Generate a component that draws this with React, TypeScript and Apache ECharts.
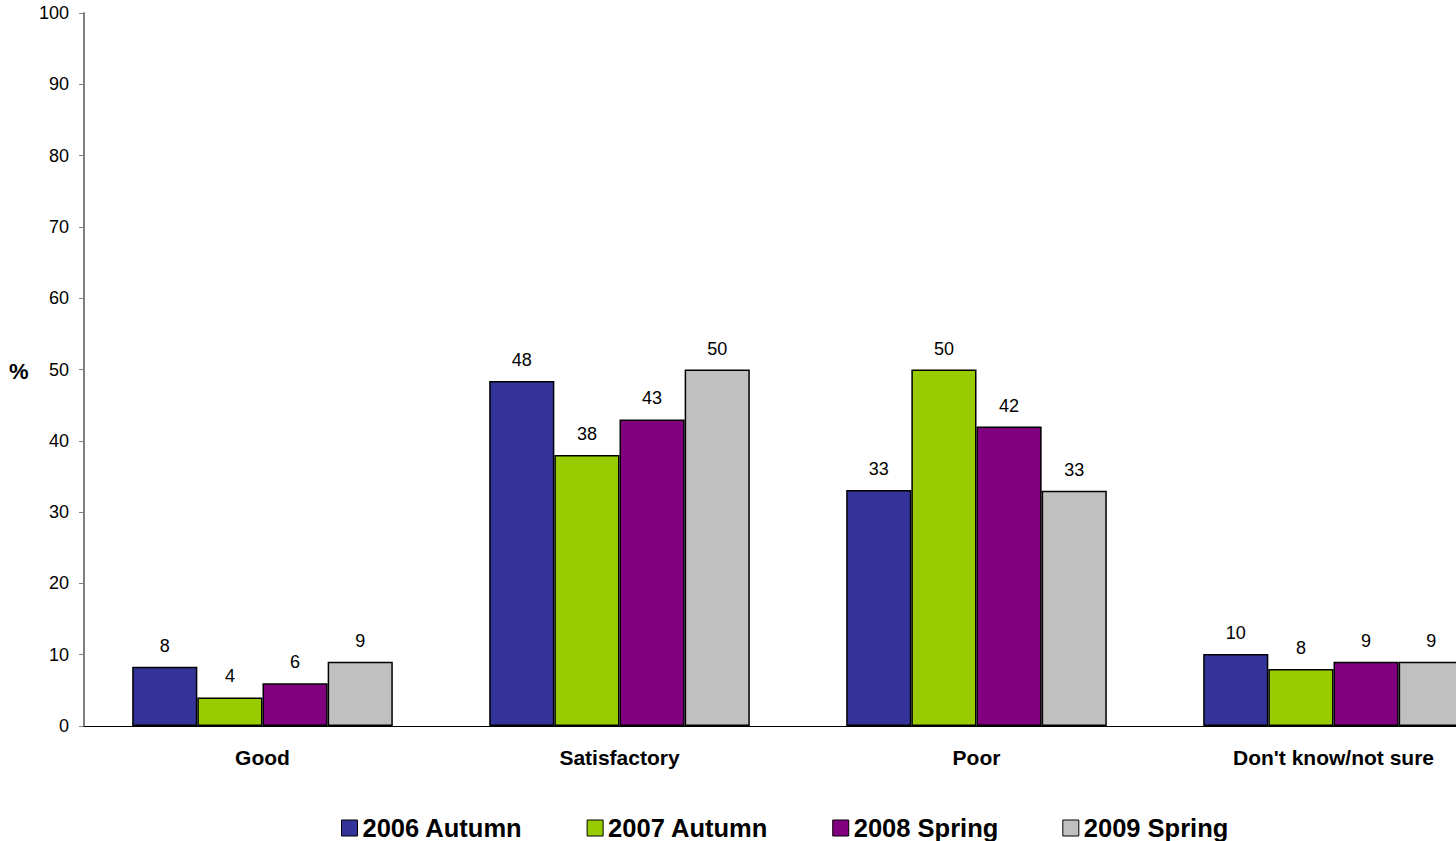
import React, { useEffect, useRef } from "react";
import * as echarts from "echarts";

const categories = ["Good", "Satisfactory", "Poor", "Don't know/not sure"];
const seriesNames = ["2006 Autumn", "2007 Autumn", "2008 Spring", "2009 Spring"];
const autumn2006 = [8.3, 48.4, 33.1, 10.1];
const autumn2007 = [4, 38, 50, 8];
const spring2008 = [6, 43, 42, 9];
const spring2009 = [9, 50, 33, 9];
const colors = ["#333399", "#99CC00", "#800080", "#C0C0C0"];
const yTicks = [0, 10, 20, 30, 40, 50, 60, 70, 80, 90, 100];

export default function App() {
  const ref = useRef<HTMLDivElement>(null);
  useEffect(() => {
    if (!ref.current) return;
    const chart = echarts.init(ref.current, null, { renderer: "svg" });
    const values = [autumn2006, autumn2007, spring2008, spring2009];
    const font = "'Liberation Sans', Arial, sans-serif";
    chart.setOption({
      animation: false,
      textStyle: { fontFamily: font },
      grid: { left: 84, top: 13, width: 1428, height: 713, containLabel: false },
      legend: {
        left: 341,
        top: 815,
        padding: 0,
        icon: "rect",
        itemWidth: 16,
        itemHeight: 16,
        itemGap: 64,
        itemStyle: { borderColor: "#000", borderWidth: 1 },
        textStyle: { fontSize: 25.5, fontWeight: "bold", color: "#000", fontFamily: font },
        data: seriesNames,
      },
      xAxis: {
        type: "category",
        data: categories,
        axisLine: { show: true, lineStyle: { color: "#000", width: 1 } },
        axisTick: { show: false },
        axisLabel: { fontSize: 21, fontWeight: "bold", color: "#000", margin: 21, fontFamily: font },
      },
      yAxis: {
        type: "value",
        min: 0,
        max: 100,
        interval: 10,
        axisLine: { show: true, lineStyle: { color: "#808080", width: 2 } },
        axisTick: { show: true, length: 5, lineStyle: { color: "#808080" } },
        splitLine: { show: false },
        axisLabel: {
          fontSize: 18,
          color: "#000",
          margin: 15,
          fontFamily: font,
          formatter: (v: number) => (yTicks.includes(v) ? String(v) : ""),
        },
      },
      graphic: [
        {
          type: "text",
          left: 9,
          top: 360,
          style: { text: "%", fontSize: 22, fontWeight: "bold", fill: "#000", fontFamily: font },
        },
      ],
      series: seriesNames.map((name, i) => ({
        name,
        type: "bar",
        data: values[i],
        barGap: "0%",
        barCategoryGap: "27%",
        itemStyle: { color: colors[i], borderColor: "#000", borderWidth: 1.5 },
        label: {
          show: true,
          position: "top",
          distance: 12,
          fontSize: 18,
          color: "#000",
          fontFamily: font,
          formatter: (p: any) => String(Math.round(p.value)),
        },
      })),
    });
    return () => chart.dispose();
  }, []);
  return (
    <div style={{ position: "absolute", left: 0, top: 0, width: 1456, height: 841, overflow: "hidden", background: "#fff" }}>
      <div ref={ref} style={{ width: 1540, height: 841 }} />
    </div>
  );
}
